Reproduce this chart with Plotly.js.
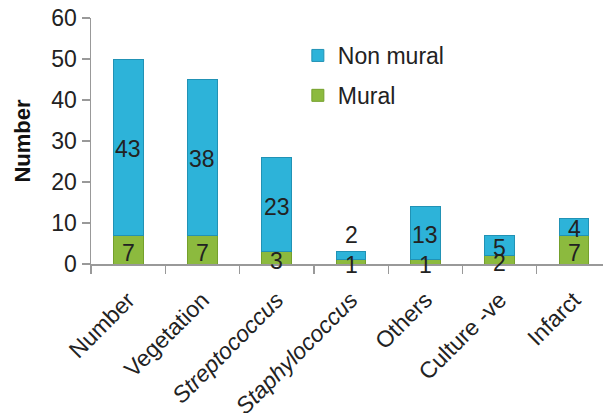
<!DOCTYPE html>
<html>
<head>
<meta charset="utf-8">
<script src="https://cdn.plot.ly/plotly-3.0.1.min.js"></script>
<style>html,body{margin:0;padding:0;background:#fff;}#chart{width:603px;height:413px;}</style>
</head>
<body>
<div id="chart"></div>
<script>
var categories = ['Number', 'Vegetation', 'Streptococcus', 'Staphylococcus', 'Others', 'Culture -ve', 'Infarct'];
var tickLabels = ['Number', 'Vegetation', '<i>Streptococcus</i>', '<i>Staphylococcus</i>', 'Others', 'Culture -ve', 'Infarct'];
var mural = [7, 7, 3, 1, 1, 2, 7];
var nonMural = [43, 38, 23, 2, 13, 5, 4];
var nonMuralLabelOutside = [false, false, false, true, false, false, false];

var font = 'Liberation Sans, Arial, sans-serif';
var fs = 23;

var traces = [
  {
    type: 'bar', name: 'Mural', x: categories, y: mural, legendgroup: 'm', legendrank: 2,
    marker: {color: '#8cba3e', line: {color: '#74a02c', width: 1}},
    hoverinfo: 'skip'
  },
  {
    type: 'bar', name: 'Non mural', x: categories, y: nonMural, legendgroup: 'n', legendrank: 1,
    marker: {color: '#2db3d9', line: {color: '#2192b5', width: 1}},
    hoverinfo: 'skip'
  }
];

var annotations = [];
categories.forEach(function (c, i) {
  annotations.push({
    x: c, y: mural[i] / 2, xref: 'x', yref: 'y', text: String(mural[i]),
    showarrow: false, yanchor: 'middle', yshift: -3,
    font: {family: font, size: fs, color: '#222'}
  });
  if (nonMuralLabelOutside[i]) {
    annotations.push({
      x: c, y: mural[i] + nonMural[i], xref: 'x', yref: 'y', text: String(nonMural[i]),
      showarrow: false, yanchor: 'bottom', yshift: 2,
      font: {family: font, size: fs, color: '#222'}
    });
  } else {
    annotations.push({
      x: c, y: mural[i] + nonMural[i] / 2, xref: 'x', yref: 'y', text: String(nonMural[i]),
      showarrow: false, yanchor: 'middle', yshift: -2,
      font: {family: font, size: fs, color: '#222'}
    });
  }
});

var layout = {
  width: 603, height: 413,
  margin: {l: 91, r: 0, t: 18, b: 149},
  paper_bgcolor: '#fff', plot_bgcolor: '#fff',
  barmode: 'stack', bargap: 0.6,
  font: {family: font, size: fs, color: '#222'},
  showlegend: true,
  legend: {
    x: 0.404, y: 0.935, xanchor: 'left', yanchor: 'top',
    traceorder: 'grouped', font: {family: font, size: fs, color: '#222'},
    bgcolor: 'rgba(0,0,0,0)', tracegroupgap: 7
  },
  annotations: annotations,
  xaxis: {
    type: 'category', range: [-0.5, 6.39],
    tickmode: 'array', tickvals: categories, ticktext: tickLabels,
    tickangle: -45, tickson: 'boundaries', ticks: 'outside', ticklen: 8,
    tickcolor: '#999', tickwidth: 1.2, ticklabelstandoff: 12,
    showline: true, linecolor: '#999', linewidth: 1.5,
    showgrid: false, zeroline: false, automargin: false,
    tickfont: {family: font, size: fs, color: '#222'}
  },
  yaxis: {
    range: [0, 60], dtick: 10, tick0: 0,
    ticks: 'outside', ticklen: 8, tickcolor: '#999', tickwidth: 1.2,
    showline: true, linecolor: '#999', linewidth: 1.5,
    showgrid: false, zeroline: false, automargin: false,
    tickfont: {family: font, size: fs, color: '#222'},
    title: {text: '<b>Number</b>', font: {family: font, size: 22, color: '#111'}, standoff: 14}
  }
};

Plotly.newPlot('chart', traces, layout, {displayModeBar: false, staticPlot: true});
</script>
</body>
</html>
